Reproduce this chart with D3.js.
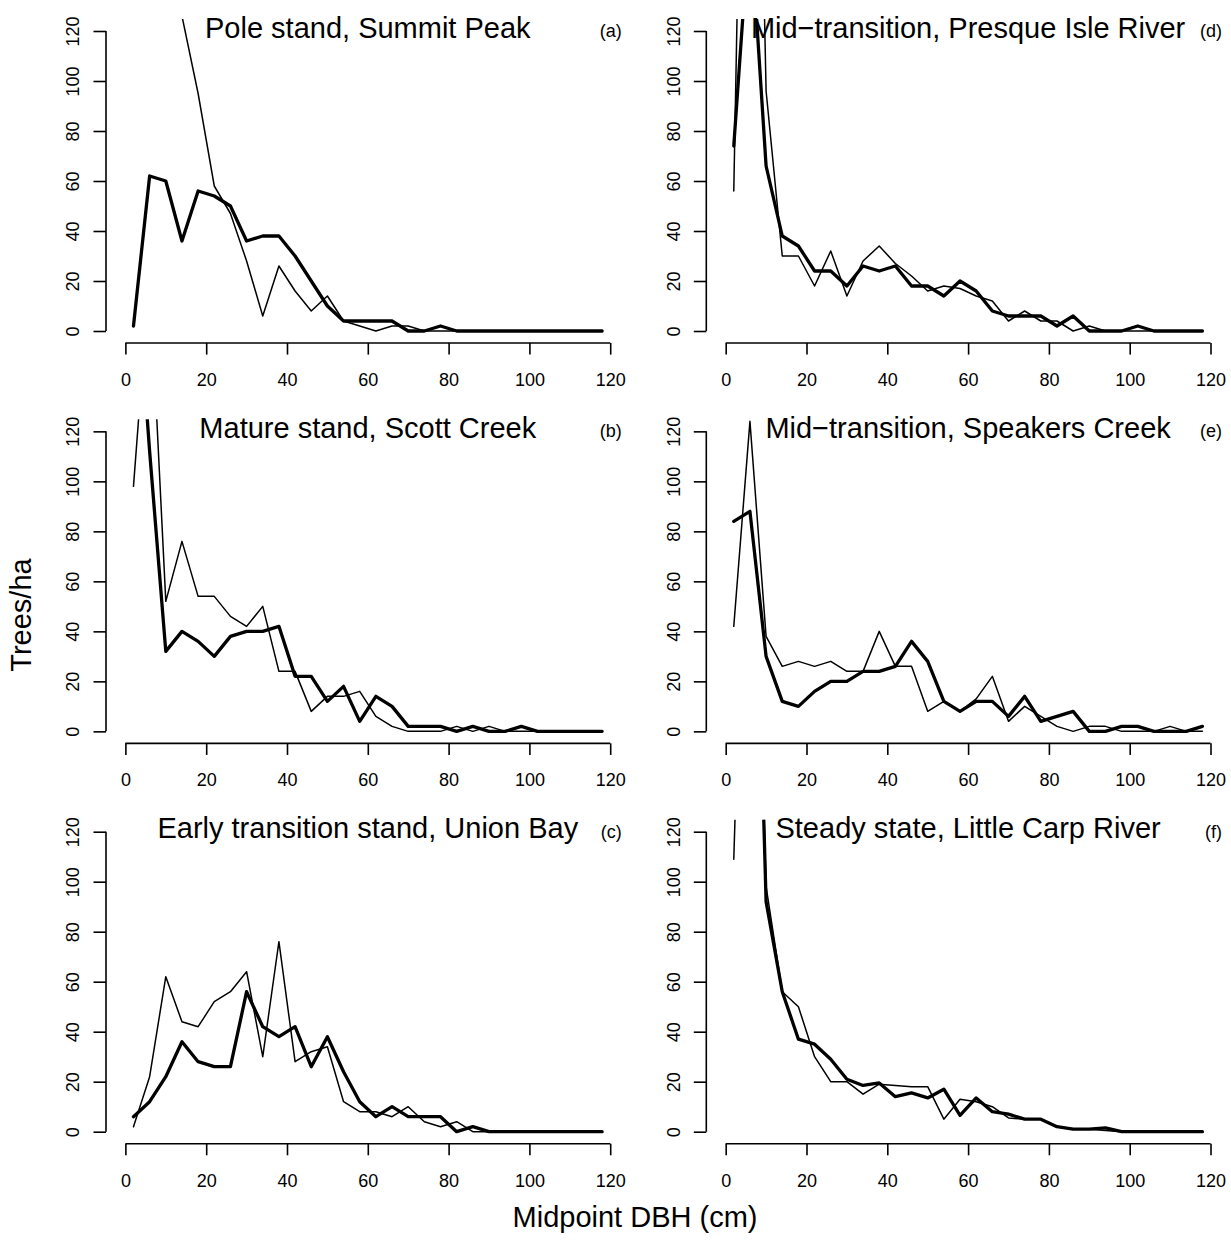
<!DOCTYPE html>
<html>
<head>
<meta charset="utf-8">
<script src="https://cdn.jsdelivr.net/npm/d3@7"></script>
<style>
  html, body { margin: 0; padding: 0; background: #fff; }
  svg { display: block; }
  text { font-family: "Liberation Sans", Arial, Helvetica, sans-serif; fill: #000; }
</style>
</head>
<body>
<svg id="chart" width="1231" height="1240"></svg>
<script>
// ---------- data ----------
const dbhMid = [2, 6, 10, 14, 18, 22, 26, 30, 34, 38, 42, 46, 50, 54, 58, 62, 66, 70, 74, 78, 82, 86, 90, 94, 98, 102, 106, 110, 114, 118];

const xTicks = [0, 20, 40, 60, 80, 100, 120];
const yTicks = [0, 20, 40, 60, 80, 100, 120];

const titles = [
  "Pole stand, Summit Peak",
  "Mature stand, Scott Creek",
  "Early transition stand, Union Bay",
  "Mid\u2212transition, Presque Isle River",
  "Mid\u2212transition, Speakers Creek",
  "Steady state, Little Carp River"
];
const tags = ["(a)", "(b)", "(c)", "(d)", "(e)", "(f)"];

// (a) Pole stand, Summit Peak
const thinA  = [260, 210, 165, 126, 95, 58, 47, 28, 6, 26, 16, 8, 14, 4, 2, 0, 2, 2, 0, 0, 0, 0, 0, 0, 0, 0, 0, 0, 0, 0];
const thickA = [2, 62, 60, 36, 56, 54, 50, 36, 38, 38, 30, 20, 10, 4, 4, 4, 4, 0, 0, 2, 0, 0, 0, 0, 0, 0, 0, 0, 0, 0];
// (b) Mature stand, Scott Creek
const thinB  = [98, 183, 52, 76, 54, 54, 46, 42, 50, 24, 24, 8, 14, 14, 16, 6, 2, 0, 0, 0, 2, 0, 2, 0, 0, 0, 0, 0, 0, 0];
const thickB = [200, 112, 32, 40, 36, 30, 38, 40, 40, 42, 22, 22, 12, 18, 4, 14, 10, 2, 2, 2, 0, 2, 0, 0, 2, 0, 0, 0, 0, 0];
// (c) Early transition stand, Union Bay
const thinC  = [2, 22, 62, 44, 42, 52, 56, 64, 30, 76, 28, 32, 34, 12, 8, 8, 6, 10, 4, 2, 4, 0, 0, 0, 0, 0, 0, 0, 0, 0];
const thickC = [6, 12, 22, 36, 28, 26, 26, 56, 42, 38, 42, 26, 38, 24, 12, 6, 10, 6, 6, 6, 0, 2, 0, 0, 0, 0, 0, 0, 0, 0];
// (d) Mid-transition, Presque Isle River
const thinD  = [56, 400, 96, 30, 30, 18, 32, 14, 28, 34, 27, 22, 16, 18, 17, 14, 12, 4, 8, 4, 4, 0, 2, 0, 0, 0, 0, 0, 0, 0];
const thickD = [74, 166, 66, 38, 34, 24, 24, 18, 26, 24, 26, 18, 18, 14, 20, 16, 8, 6, 6, 6, 2, 6, 0, 0, 0, 2, 0, 0, 0, 0];
// (e) Mid-transition, Speakers Creek
const thinE  = [42, 124, 38, 26, 28, 26, 28, 24, 24, 40, 26, 26, 8, 12, 8, 13, 22, 4, 10, 6, 2, 0, 2, 2, 0, 0, 0, 2, 0, 0];
const thickE = [84, 88, 30, 12, 10, 16, 20, 20, 24, 24, 26, 36, 28, 12, 8, 12, 12, 6, 14, 4, 6, 8, 0, 0, 2, 2, 0, 0, 0, 2];
// (f) Steady state, Little Carp River
const thinF  = [109, 320, 98, 56, 50, 30, 20, 20, 15, 19, 18.5, 18, 18, 5, 13, 12, 10, 5.5, 5, 5, 2, 1, 1, 0.5, 0, 0, 0, 0, 0, 0];
const thickF = [600, 320, 92, 56, 37, 35, 29, 21, 18.5, 19.5, 14, 15.5, 13.5, 17, 6.5, 13.5, 8, 7, 5, 5, 2, 1, 1, 1.5, 0, 0, 0, 0, 0, 0];

const thinSeries  = [thinA, thinB, thinC, thinD, thinE, thinF];
const thickSeries = [thickA, thickB, thickC, thickD, thickE, thickF];

// ---------- layout ----------
const svg = d3.select("#chart");
svg.append("rect").attr("width", 1231).attr("height", 1240).attr("fill", "#fff");

const plotW = 523.6, plotH = 324;
const colLeft = [106, 706.3];
const rowTop = [19, 419.35, 819.7];

const x = d3.scaleLinear().domain([-4.8, 124.8]).range([0, plotW]);
const y = d3.scaleLinear().domain([-4.8, 124.8]).range([plotH, 0]);

const line = d3.line()
  .x((d, i) => x(dbhMid[i]))
  .y(d => y(d));

for (let p = 0; p < 6; p++) {
  const col = Math.floor(p / 3), row = p % 3;
  const g = svg.append("g").attr("transform", `translate(${colLeft[col]},${rowTop[row]})`);

  g.append("clipPath").attr("id", "clip" + p)
    .append("rect").attr("x", 0).attr("y", 0).attr("width", plotW).attr("height", plotH);

  const lines = g.append("g").attr("clip-path", `url(#clip${p})`);
  lines.append("path").datum(thinSeries[p]).attr("d", line)
    .attr("fill", "none").attr("stroke", "#000").attr("stroke-width", 1.5)
    .attr("stroke-linejoin", "round").attr("stroke-linecap", "round");
  lines.append("path").datum(thickSeries[p]).attr("d", line)
    .attr("fill", "none").attr("stroke", "#000").attr("stroke-width", 3.3)
    .attr("stroke-linejoin", "round").attr("stroke-linecap", "round");

  // y axis
  const ya = g.append("g").call(d3.axisLeft(y).tickValues(yTicks).tickSize(12.5).tickFormat(d3.format("d")));
  ya.select(".domain").remove();
  ya.selectAll(".tick line").attr("stroke", "#000").attr("stroke-width", 1.6);
  ya.selectAll(".tick text")
    .attr("x", 0).attr("dy", 0)
    .attr("transform", "translate(-26.7,0) rotate(-90)")
    .attr("text-anchor", "middle")
    .style("font-size", "18px");
  ya.append("line").attr("x1", 0).attr("x2", 0).attr("y1", y(0)).attr("y2", y(120))
    .attr("stroke", "#000").attr("stroke-width", 1.6);

  // x axis
  const xa = g.append("g").attr("transform", `translate(0,${plotH})`)
    .call(d3.axisBottom(x).tickValues(xTicks).tickSize(11.6).tickFormat(d3.format("d")));
  xa.select(".domain").remove();
  xa.selectAll(".tick line").attr("stroke", "#000").attr("stroke-width", 1.6);
  xa.selectAll(".tick text").attr("y", 43).attr("dy", 0).style("font-size", "18px");
  xa.append("line").attr("x1", x(0)).attr("x2", x(120)).attr("y1", 0).attr("y2", 0)
    .attr("stroke", "#000").attr("stroke-width", 1.6);

  // titles and tags
  g.append("text").attr("x", plotW / 2).attr("y", 18.5)
    .attr("text-anchor", "middle").style("font-size", "29px").text(titles[p]);
  g.append("text").attr("x", 515.7).attr("y", 18)
    .attr("text-anchor", "end").style("font-size", "18px").text(tags[p]);
}

// outer labels
svg.append("text").attr("transform", "translate(30.7,615) rotate(-90)")
  .attr("text-anchor", "middle").style("font-size", "29px").text("Trees/ha");
svg.append("text").attr("x", 635).attr("y", 1227.3)
  .attr("text-anchor", "middle").style("font-size", "29px").text("Midpoint DBH (cm)");
</script>
</body>
</html>
